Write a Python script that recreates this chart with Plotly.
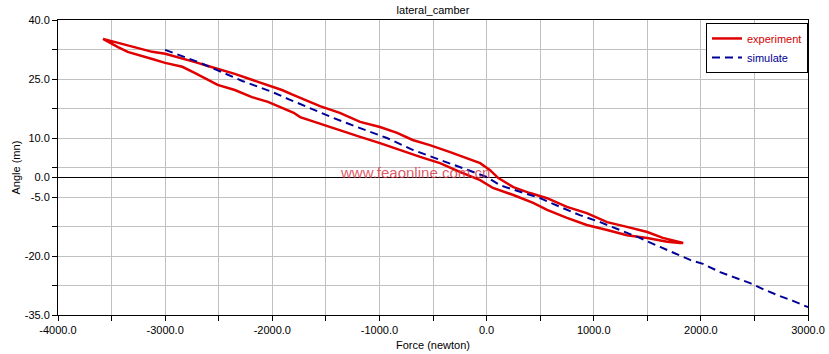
import plotly.graph_objects as go

# ---------------- data ----------------
# experiment: hysteresis loop (upper branch left->right, lower branch right->left)
exp_force = [
    -3580, -3440, -3280, -3120, -3000, -2840, -2720, -2600, -2470, -2350,
    -2190, -2040, -1910, -1800, -1740, -1555, -1370, -1180, -995, -835,
    -690, -530, -340, -180, -60, 30, 110, 250, 405, 565,
    750, 935, 1125, 1310, 1500, 1645, 1835,
    1805, 1685, 1500, 1310, 1125, 935, 750, 565, 435, 250,
    60, -60, -250, -435, -620, -810, -995, -1180, -1370, -1555,
    -1740, -1800, -1910, -2040, -2190, -2350, -2510, -2630, -2720, -2840,
    -3000, -3120, -3250, -3350, -3440, -3580,
]
exp_angle = [
    35.2, 34.2, 33.1, 31.9, 31.4, 30.3, 29.3, 28.3, 27.3, 26.3,
    24.8, 23.5, 22.2, 20.9, 20.2, 18.1, 16.4, 14.1, 12.8, 11.3,
    9.5, 8.2, 6.4, 4.9, 3.6, 1.9, -0.2, -2.5, -4.0, -5.3,
    -7.5, -9.1, -11.4, -12.6, -13.9, -15.4, -16.7,
    -16.7, -16.4, -15.4, -14.7, -13.4, -12.1, -10.3, -8.3, -6.5, -4.5,
    -2.7, -0.7, 1.4, 3.6, 5.2, 7.0, 8.7, 10.3, 12.0, 13.8,
    15.3, 16.4, 17.6, 19.2, 20.4, 22.2, 23.5, 25.3, 26.5, 28.1,
    29.1, 30.1, 31.1, 31.9, 33.1, 35.2,
]

sim_force = [
    -3000, -2840, -2690, -2560, -2410, -2280, -2130, -2000, -1850, -1680,
    -1430, -1180, -930, -690, -435, -180, 0, 125, 310, 500,
    685, 870, 1060, 1245, 1430, 1620, 1900, 2020, 2180, 2300,
    2460, 2580, 2710, 2860, 3000,
]
sim_angle = [
    32.4, 30.9, 29.3, 27.8, 26.0, 24.5, 23.0, 21.7, 19.9, 17.9,
    15.1, 12.5, 10.0, 7.0, 4.4, 1.9, 0.1, -2.0, -3.7, -5.3,
    -7.5, -9.6, -11.4, -13.4, -15.4, -17.7, -21.0, -22.0, -24.1, -25.3,
    -26.9, -28.4, -29.9, -31.4, -33.0,
]

x_tickvals = [-4000, -3500, -3000, -2500, -2000, -1500, -1000, -500, 0,
              500, 1000, 1500, 2000, 2500, 3000]
x_ticktext = ["-4000.0", "", "-3000.0", "", "-2000.0", "", "-1000.0", "", "0.0",
              "", "1000.0", "", "2000.0", "", "3000.0"]
y_tickvals = [40, 32.5, 25, 17.5, 10, 2.5, 0, -5, -12.5, -20, -27.5, -35]
y_ticktext = ["40.0", "", "25.0", "", "10.0", "", "0.0", "-5.0", "", "-20.0", "", "-35.0"]

FONT = "Liberation Sans, Arial, sans-serif"

fig = go.Figure()
fig.add_trace(go.Scatter(
    x=exp_force, y=exp_angle, mode="lines",
    name="<span style='color:#d40000'>experiment</span>",
    line=dict(color="#e00000", width=2.5),
))
fig.add_trace(go.Scatter(
    x=sim_force, y=sim_angle, mode="lines",
    name="<span style='color:#000099'>simulate</span>",
    line=dict(color="#000099", width=2, dash="8px,5px"),
))

axis_common = dict(
    showline=True, linecolor="black", linewidth=1, mirror=True,
    showgrid=True, gridcolor="#c0c0c0", gridwidth=1,
    ticks="outside", ticklen=5, tickcolor="black", tickwidth=1,
    tickfont=dict(family=FONT, size=11, color="black"),
    tickmode="array", automargin=False,
)

fig.update_layout(
    width=829, height=354, autosize=False,
    margin=dict(l=58, r=21, t=20, b=39, pad=0),
    paper_bgcolor="white", plot_bgcolor="white",
    font=dict(family=FONT, size=11, color="black"),
    title=dict(text="lateral_camber", x=0.5, xref="paper", xanchor="center",
               y=1 - 10 / 354, yref="container", yanchor="middle",
               font=dict(family=FONT, size=11, color="black")),
    xaxis=dict(range=[-4000, 3000], tickvals=x_tickvals, ticktext=x_ticktext,
               zeroline=False, **axis_common),
    yaxis=dict(range=[-35, 40], tickvals=y_tickvals, ticktext=y_ticktext,
               zeroline=True, zerolinecolor="black", zerolinewidth=1,
               **axis_common),
    showlegend=True,
    legend=dict(x=1, xanchor="right", y=0.99, yanchor="top",
                bgcolor="white", bordercolor="black", borderwidth=1,
                font=dict(family=FONT, size=11), itemwidth=30,
                tracegroupgap=0),
    annotations=[
        dict(text="Angle (mn)", xref="paper", yref="paper",
             x=(15 - 58) / 750, y=0.5, textangle=-90, showarrow=False,
             font=dict(family=FONT, size=11, color="black"),
             xanchor="center", yanchor="middle"),
        dict(text="Force (newton)", xref="paper", yref="paper",
             x=0.5, y=(315 - 345) / 295, showarrow=False,
             font=dict(family=FONT, size=11, color="black"),
             xanchor="center", yanchor="middle"),
        dict(text="www.feaonline.com.cn", xref="paper", yref="paper",
             x=(338 - 58) / 750, y=1 - (172 - 20) / 295, showarrow=False,
             font=dict(family=FONT, size=15, color="rgba(215,60,75,0.85)"),
             xanchor="left", yanchor="middle"),
    ],
)

fig.write_html(
    "out.html",
    config={"displayModeBar": False},
    post_script="document.body.style.margin='0';document.body.style.padding='0';"
                "document.body.style.overflow='hidden';",
)
